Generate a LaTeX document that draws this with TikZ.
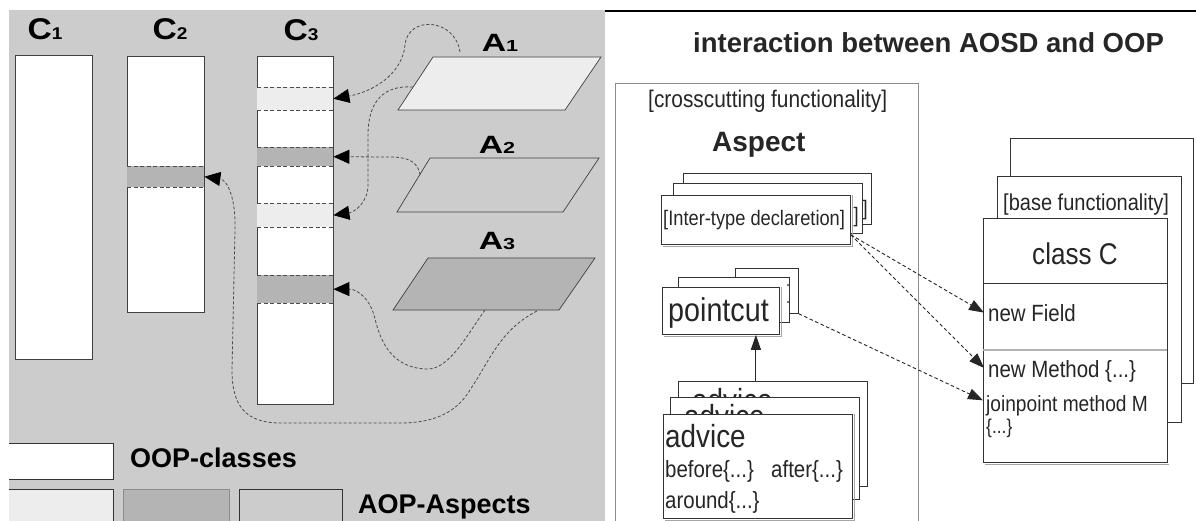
\documentclass[tikz,border=0pt]{standalone}
\usepackage{fontspec}
\setmainfont{Liberation Sans}
\usepackage{graphicx}
\usetikzlibrary{arrows.meta}
\definecolor{bgc}{HTML}{CCCCCC}
\definecolor{litec}{HTML}{EDEDED}
\definecolor{darkc}{HTML}{B4B4B4}
\newcommand\nt[2]{\scalebox{0.87}[1]{\fontsize{#1}{#1}\selectfont #2}}
\newcommand\bt[2]{{\fontsize{#1}{#1}\selectfont\bfseries #2}}
\newcommand\wt[3]{\scalebox{#1}[1]{\fontsize{#2}{#2}\selectfont\bfseries #3}}
\begin{document}
\begin{tikzpicture}[x=1pt,y=-1pt,
  crect/.style={draw=black!75,fill=white,line width=0.6pt,inner sep=0pt,anchor=north west},
  band/.style={inner sep=0pt,anchor=north west,draw=none},
  bline/.style={black!70,line width=0.8pt,dash pattern=on 4pt off 2.5pt},
  curv/.style={black!70,line width=0.8pt,dash pattern=on 3pt off 2pt,-{Triangle[length=16pt,width=14pt,color=black]}},
  box/.style={draw=black!80,fill=white,line width=0.8pt,inner sep=0pt,anchor=north west},
  shad/.style={black!35,line width=1.4pt},
  lbl/.style={inner sep=0pt,text=black!85},
  rarr/.style={black!85,line width=0.9pt,dash pattern=on 3.5pt off 2.5pt,-{Triangle[length=15pt,width=11pt]}},
  para/.style={black!75,line width=0.7pt}
]
\useasboundingbox (0,0) rectangle (1196,521);
\fill[white] (0,0) rectangle (1196,521);
% ---------------- left panel ----------------
\fill[bgc] (9,10) rectangle (605,521);

\node[crect,minimum width=77pt,minimum height=304pt] (c1) at (15,55) {};
\node[crect,minimum width=77pt,minimum height=256pt] (c2) at (127,56) {};
\node[crect,minimum width=76pt,minimum height=348pt] (c3) at (257,56) {};

\node[band,fill=darkc,minimum width=77pt,minimum height=21pt] (c2b) at (127,166) {};
\node[band,fill=litec,minimum width=76pt,minimum height=23pt] (c3b1) at (257,87) {};
\node[band,fill=darkc,minimum width=76pt,minimum height=19pt] (c3b2) at (257,147) {};
\node[band,fill=litec,minimum width=76pt,minimum height=24pt] (c3b3) at (257,203) {};
\node[band,fill=darkc,minimum width=76pt,minimum height=28pt] (c3b4) at (257,275) {};
\foreach \b in {c2b,c3b1,c3b2,c3b3,c3b4}
  \draw[bline] (\b.north west) -- (\b.north east) (\b.south west) -- (\b.south east);

\node[lbl,text=black] (lc1) at (45,29) {\wt{1.12}{30}{C\fontsize{17}{17}\selectfont 1}};
\node[lbl,text=black] (lc2) at (170,29) {\wt{1.12}{30}{C\fontsize{17}{17}\selectfont 2}};
\node[lbl,text=black] (lc3) at (301,30) {\wt{1.12}{30}{C\fontsize{17}{17}\selectfont 3}};
\node[lbl,text=black] (la1) at (500,43) {\wt{1.35}{25}{A\fontsize{16}{16}\selectfont 1}};
\node[lbl,text=black] (la2) at (497,145) {\wt{1.35}{25}{A\fontsize{16}{16}\selectfont 2}};
\node[lbl,text=black] (la3) at (497,241) {\wt{1.35}{25}{A\fontsize{16}{16}\selectfont 3}};

\draw[para,fill=litec] (433,57) -- (601,57) -- (565,110) -- (398,110) -- cycle;
\draw[para,fill=bgc] (430,158) -- (599,158) -- (563,212) -- (397,212) -- cycle;
\draw[para,fill=darkc] (428,258) -- (595,258) -- (559,310) -- (393,310) -- cycle;

\coordinate (s1) at (460,52);
\coordinate (s2) at (413,87);
\coordinate (s3) at (420,175);
\coordinate (s4) at (485,310);
\coordinate (s5) at (537,311);

\draw[curv] (s1) .. controls (455,18) and (408,15) .. (405,45) .. controls (402,75) and (372,92) .. (c3b1.east);
\draw[curv] (s2) .. controls (385,85) and (368,100) .. (368,135) -- (368,185) .. controls (368,202) and (355,212) .. (c3b3.east);
\draw[curv] (s3) .. controls (418,160) and (405,157) .. (390,157) -- (c3b2.east);
\draw[curv] (s4) .. controls (470,330) and (450,370) .. (427,369) .. controls (385,368) and (378,330) .. (374,315) .. controls (370,300) and (358,289) .. (c3b4.east);
\draw[curv] (s5) .. controls (500,330) and (490,360) .. (470,390) .. controls (455,415) and (430,423) .. (400,423) -- (280,423) .. controls (245,423) and (232,405) .. (232,370) -- (235,230) .. controls (236,200) and (228,180) .. (c2b.east);

% legend
\fill[white] (9,443) rectangle (113,479);
\draw[black!80,line width=0.8pt] (9,443) -- (113,443) -- (113,479) -- (9,479);
\node[lbl,text=black,anchor=base west] (loop) at (130,467) {\bt{27}{OOP-classes}};
\fill[litec] (9,489) rectangle (113,521);
\draw[black!80,line width=0.8pt] (9,489) -- (113,489) -- (113,521);
\draw[fill=darkc,draw=black!45,line width=0.8pt] (123,489) rectangle (229,530);
\draw[fill=bgc,draw=black!80,line width=0.8pt] (239,489) rectangle (342,530);
\node[lbl,text=black,anchor=base west] (laop) at (358,513) {\bt{27}{AOP-Aspects}};

% ---------------- right panel ----------------
\draw[line width=2pt] (605,11) -- (1196,11);
\node[lbl,anchor=base west] (title) at (693,53) {\bt{27.5}{interaction between AOSD and OOP}};
\draw[black!45,line width=0.7pt] (615,521) -- (615,83) -- (918,83) -- (918,521);

\node[lbl,anchor=base west] (cross) at (648,108) {\nt{24}{[crosscutting functionality]}};
\node[lbl,anchor=base west] (asp) at (712,152) {\bt{28}{Aspect}};

\node[box,minimum width=188pt,minimum height=51pt] (ib3) at (683,173) {};
\node[lbl,anchor=base east] (it3) at (868,216) {\nt{21}{]}};
\node[box,minimum width=189pt,minimum height=50pt] (ib2) at (673,183) {};
\node[lbl,anchor=base east] (it2) at (859,223) {\nt{21}{]}};
\node[box,minimum width=189pt,minimum height=49pt] (ib1) at (661,195) {};
\draw[shad] ([xshift=2pt,yshift=-1.5pt]ib1.south west) -- ([xshift=1.5pt,yshift=-1.5pt]ib1.south east) -- ([xshift=1.5pt]ib1.north east);
\draw[black!80,line width=0.8pt] (ib1.north west) rectangle (ib1.south east);
\node[lbl,anchor=base west] (itd) at (663,226) {\nt{21}{[Inter-type declaretion]}};

\node[box,minimum width=63pt,minimum height=45pt] (pb3) at (735,268) {};
\node[box,minimum width=111pt,minimum height=45pt] (pb2) at (678,277) {};
\fill[black!70] (788,285) circle (1.2pt) (788,302) circle (1.2pt);
\node[box,minimum width=117pt,minimum height=47pt] (pb1) at (662,287) {};
\draw[shad] ([xshift=2pt,yshift=-1.5pt]pb1.south west) -- ([xshift=1.5pt,yshift=-1.5pt]pb1.south east) -- ([xshift=1.5pt]pb1.north east);
\draw[black!80,line width=0.8pt] (pb1.north west) rectangle (pb1.south east);
\node[lbl,anchor=base west] (pc) at (668,321) {\nt{33}{pointcut}};

\node[box,minimum width=189pt,minimum height=105pt] (ab3) at (678,381) {};
\begin{scope}
\clip (678,381) rectangle (867,397);
\node[lbl,anchor=base west] (adv3) at (692,411) {\nt{32}{advice}};
\end{scope}
\node[box,minimum width=189pt,minimum height=102pt] (ab2) at (670,397) {};
\begin{scope}
\clip (670,397) rectangle (859,414);
\node[lbl,anchor=base west] (adv2) at (684,427) {\nt{32}{advice}};
\end{scope}
\node[box,minimum width=189pt,minimum height=104pt] (ab1) at (663,414) {};
\draw[shad] ([xshift=2pt,yshift=-1.5pt]ab1.south west) -- ([xshift=1.5pt,yshift=-1.5pt]ab1.south east) -- ([xshift=1.5pt]ab1.north east);
\draw[black!80,line width=0.8pt] (ab1.north west) rectangle (ab1.south east);
\node[lbl,anchor=base west] (adv) at (665,447) {\nt{32}{advice}};
\node[lbl,anchor=base west] (bef) at (665,477) {\nt{23.5}{before\{...\}}};
\node[lbl,anchor=base west] (aft) at (771,477) {\nt{23.5}{after\{...\}}};
\node[lbl,anchor=base west] (aro) at (665,508) {\nt{23.5}{around\{...\}}};

\draw[black!85,line width=0.9pt,-{Triangle[length=15pt,width=10pt]}] ([xshift=-17pt]ab3.north) -- ([xshift=-17pt]ab3.north |- pb1.south);

\node[box,minimum width=183pt,minimum height=245pt] (cb3) at (1010,138) {};
\node[box,minimum width=184pt,minimum height=246pt] (cb2) at (997,176) {};
\node[lbl,anchor=base west] (basef) at (1003,211) {\nt{23}{[base functionality]}};
\node[box,minimum width=184pt,minimum height=244pt] (cb1) at (983,218) {};
\draw[shad] ([xshift=2pt,yshift=-1.5pt]cb1.south west) -- ([xshift=1.5pt,yshift=-1.5pt]cb1.south east);
\draw[black!80,line width=0.8pt] (cb1.north west) rectangle (cb1.south east);
\node[lbl,anchor=base] (cc) at (1075,265) {\nt{30}{class C}};
\draw[black!80,line width=0.8pt] (983,283) -- (1167,283);
\draw[black!30,line width=1.5pt] (983,350) -- (1167,350);
\node[lbl,anchor=base west] (nf) at (988,321) {\nt{23.5}{new Field}};
\node[lbl,anchor=base west] (nm) at (988,377) {\nt{23.5}{new Method \{...\}}};
\node[lbl,anchor=base west] (jm) at (986,411) {\nt{22}{joinpoint method M}};
\node[lbl,anchor=base west] (jb) at (986,433) {\nt{20}{\{...\}}};

\coordinate (itdout) at ([yshift=10pt]ib1.south east);
\draw[rarr] (itdout) -- ([xshift=-4pt]nf.west);
\draw[rarr] (itdout) -- ([xshift=-4pt,yshift=3pt]nm.west);
\draw[rarr] (pb3.south east) -- ([xshift=-3pt,yshift=5pt]jm.west);
\end{tikzpicture}
\end{document}
